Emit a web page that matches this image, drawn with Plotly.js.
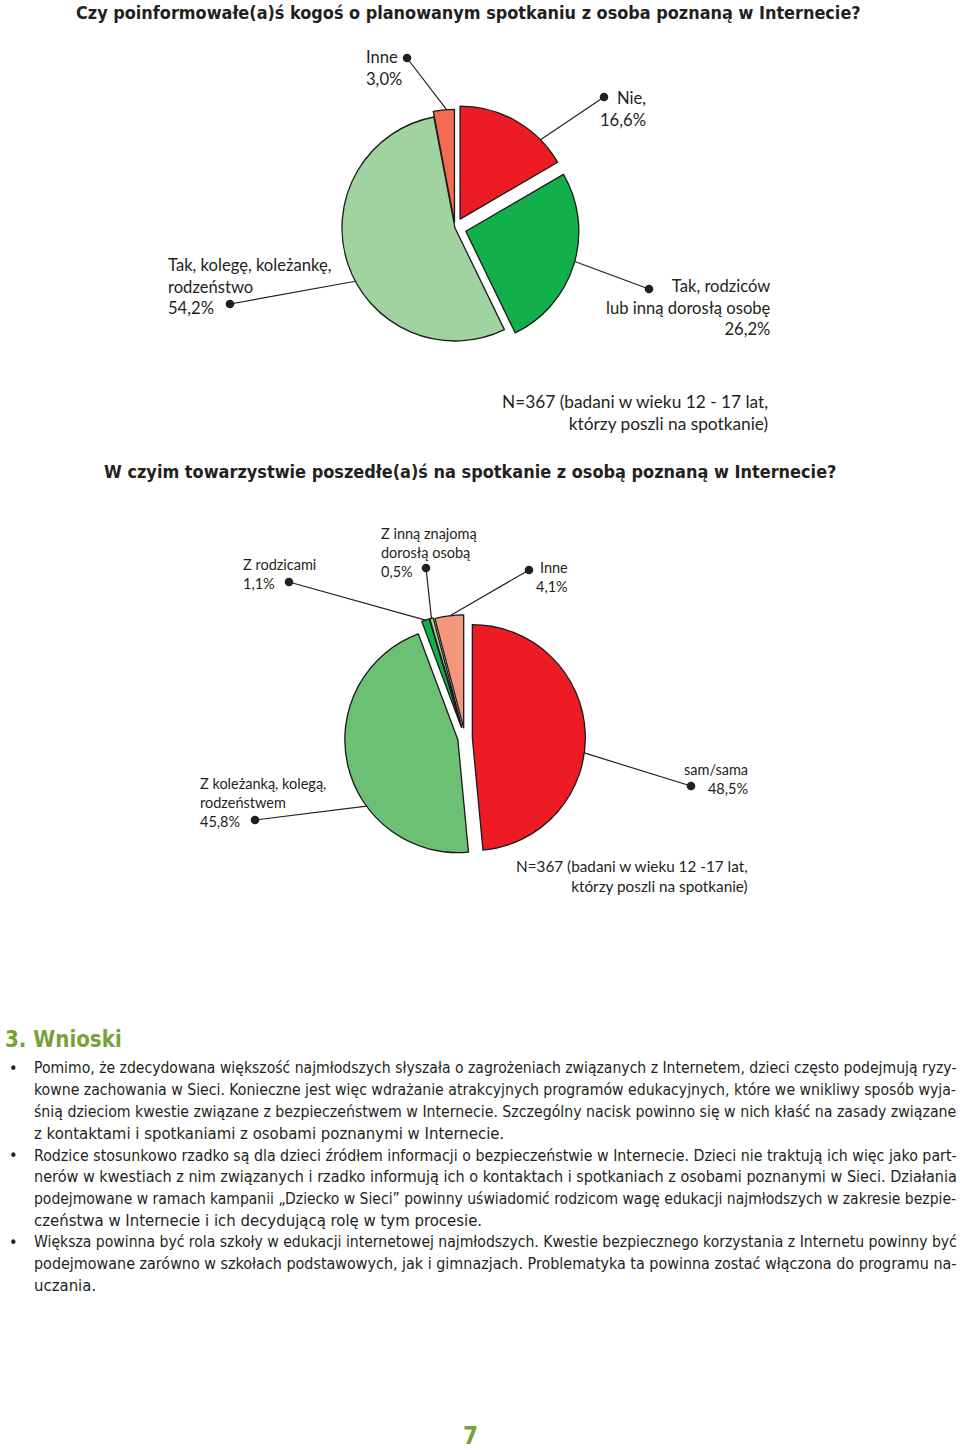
<!DOCTYPE html>
<html>
<head>
<meta charset="utf-8">
<script src="https://cdn.plot.ly/plotly-3.0.1.min.js"></script>
<style>html,body{margin:0;padding:0;background:#fff}</style>
</head>
<body>
<div id="chart" style="width:960px;height:1450px"></div>
<script>
// ---------------- DATA ----------------
const q1Title = 'Czy poinformowałe(a)ś kogoś o planowanym spotkaniu z osoba poznaną w Internecie?';
const q1Labels = ['Nie,', 'Tak, rodziców\nlub inną dorosłą osobę', 'Tak, kolegę, koleżankę,\nrodzeństwo', 'Inne'];
const q1Values = [16.6, 26.2, 54.2, 3.0];
const q1Colors = ['#ED1C24', '#12B04B', '#A0D3A0', '#F26A4F'];
const q1Note = 'N=367 (badani w wieku 12 - 17 lat,\nktórzy poszli na spotkanie)';

const q2Title = 'W czyim towarzystwie poszedłe(a)ś na spotkanie z osobą poznaną w Internecie?';
const q2Labels = ['sam/sama', 'Z koleżanką, kolegą,\nrodzeństwem', 'Z rodzicami', 'Z inną znajomą\ndorosłą osobą', 'Inne'];
const q2Values = [48.5, 45.8, 1.1, 0.5, 4.1];
const q2Colors = ['#ED1C24', '#6CC073', '#12B04B', '#A8D8A8', '#F4977C'];
const q2Note = 'N=367 (badani w wieku 12 -17 lat,\nktórzy poszli na spotkanie)';

const sectionHeading = '3. Wnioski';
const bulletParagraphs = [
  ['Pomimo, że zdecydowana większość najmłodszych słyszała o zagrożeniach związanych z Internetem, dzieci często podejmują ryzy-',
   'kowne zachowania w Sieci. Konieczne jest więc wdrażanie atrakcyjnych programów edukacyjnych, które we wnikliwy sposób wyja-',
   'śnią dzieciom kwestie związane z bezpieczeństwem w Internecie. Szczególny nacisk powinno się w nich kłaść na zasady związane',
   'z kontaktami i spotkaniami z osobami poznanymi w Internecie.'],
  ['Rodzice stosunkowo rzadko są dla dzieci źródłem informacji o bezpieczeństwie w Internecie. Dzieci nie traktują ich więc jako part-',
   'nerów w kwestiach z nim związanych i rzadko informują ich o kontaktach i spotkaniach z osobami poznanymi w Sieci. Działania',
   'podejmowane w ramach kampanii „Dziecko w Sieci” powinny uświadomić rodzicom wagę edukacji najmłodszych w zakresie bezpie-',
   'czeństwa w Internecie i ich decydującą rolę w tym procesie.'],
  ['Większa powinna być rola szkoły w edukacji internetowej najmłodszych. Kwestie bezpiecznego korzystania z Internetu powinny być',
   'podejmowane zarówno w szkołach podstawowych, jak i gimnazjach. Problematyka ta powinna zostać włączona do programu na-',
   'uczania.']
];
const pageNumber = '7';

// ---------------- LAYOUT / STYLE ----------------
const W = 960, H = 1450;
const ink = '#231F20';
const green = '#76A23A';
const labelFont = 'Lato, "Open Sans", sans-serif';
const bodyFont = '"Liberation Sans Narrow", "DejaVu Sans Condensed", "Roboto Condensed", sans-serif';

const geo1 = {cx: 455, cy: 228, r: 113, pull: [0.09, 0.1, 0, 0.05]};
const geo2 = {cx: 465, cy: 738, r: 113, pull: [0.065, 0.065, 0.1, 0.1, 0.09]};

// label placement (pixels): text anchor, dot, fraction of slice span where the leader meets the edge
const lab1 = [
  {tx: 648, ty: 86, xa: 'right', dot: [604, 97], frac: 0.76},
  {tx: 773, ty: 274, xa: 'right', dot: [649, 289], frac: 0.485},
  {tx: 166, ty: 253, xa: 'left', dot: [230, 304], frac: 0.45},
  {tx: 364, ty: 45, xa: 'left', dot: [407, 58], frac: 0.63}
];
const lab2 = [
  {tx: 750, ty: 759, xa: 'right', dot: [691, 786], frac: 0.56},
  {tx: 198, ty: 773, xa: 'left', dot: [255, 820], frac: 0.36},
  {tx: 241, ty: 554, xa: 'left', dot: [289, 582], frac: 0.5},
  {tx: 379, ty: 523, xa: 'left', dot: [426, 568], frac: 0.5},
  {tx: 570, ty: 557, xa: 'right', dot: [529, 570], frac: 0.53}
];

const ctx = document.createElement('canvas').getContext('2d');
function fitSize(text, target, base, weight) {
  ctx.font = (weight || 'normal') + ' ' + base + 'px ' + bodyFont;
  const w = ctx.measureText(text).width;
  const s = base * target / w;
  return Math.max(base * 0.85, Math.min(base * 1.15, s));
}
const px = (x) => x / W;
const py = (y) => 1 - y / H;
const br = (s) => s.replace(/\n/g, '<br>');
const pct = (v) => v.toFixed(1).replace('.', ',') + '%';

function domainOf(g) {
  const half = g.r * (1 + Math.max(...g.pull));
  return {x: [px(g.cx - half), px(g.cx + half)], y: [py(g.cy + half), py(g.cy - half)]};
}
function edgePoint(values, i, g, frac) {
  const total = values.reduce((a, b) => a + b, 0);
  let start = 0;
  for (let k = 0; k < i; k++) start += values[k];
  const a0 = start / total * 360, span = values[i] / total * 360;
  const mid = (a0 + span / 2) * Math.PI / 180;
  const ang = (a0 + frac * span) * Math.PI / 180;
  const ox = g.cx + g.pull[i] * g.r * Math.sin(mid);
  const oy = g.cy - g.pull[i] * g.r * Math.cos(mid);
  return [ox + g.r * Math.sin(ang), oy - g.r * Math.cos(ang)];
}

const traces = [
  {type: 'pie', labels: q1Labels.map(s => s.replace('\n', ' ')), values: q1Values, sort: false,
   direction: 'clockwise', rotation: 0, pull: geo1.pull, textinfo: 'none', hoverinfo: 'skip',
   marker: {colors: q1Colors, line: {color: '#1a1a1a', width: 1.3}}, domain: domainOf(geo1), showlegend: false},
  {type: 'pie', labels: q2Labels.map(s => s.replace('\n', ' ')), values: q2Values, sort: false,
   direction: 'clockwise', rotation: 0, pull: geo2.pull, textinfo: 'none', hoverinfo: 'skip',
   marker: {colors: q2Colors, line: {color: '#1a1a1a', width: 1.3}}, domain: domainOf(geo2), showlegend: false}
];

const annotations = [];
const shapes = [];

function addLabels(labels, values, labs, g, size) {
  labs.forEach((L, i) => {
    annotations.push({xref: 'paper', yref: 'paper', x: px(L.tx), y: py(L.ty), xanchor: L.xa, yanchor: 'top',
      align: L.xa, showarrow: false, text: br(labels[i]) + '<br>' + pct(values[i]),
      font: {family: labelFont, size: size, color: ink}});
    const e = edgePoint(values, i, g, L.frac);
    shapes.push({type: 'line', xref: 'paper', yref: 'paper', x0: px(L.dot[0]), y0: py(L.dot[1]),
      x1: px(e[0]), y1: py(e[1]), line: {color: ink, width: 1.2}});
    const rd = 4.3;
    shapes.push({type: 'circle', xref: 'paper', yref: 'paper', x0: px(L.dot[0] - rd), x1: px(L.dot[0] + rd),
      y0: py(L.dot[1] + rd), y1: py(L.dot[1] - rd), fillcolor: ink, line: {width: 0}});
  });
}
addLabels(q1Labels, q1Values, lab1, geo1, 16.6);
addLabels(q2Labels, q2Values, lab2, geo2, 14.5);

annotations.push({xref: 'paper', yref: 'paper', x: px(770), y: py(389), xanchor: 'right', yanchor: 'top',
  align: 'right', showarrow: false, text: br(q1Note), font: {family: labelFont, size: 17.3, color: ink}});
annotations.push({xref: 'paper', yref: 'paper', x: px(750), y: py(855), xanchor: 'right', yanchor: 'top',
  align: 'right', showarrow: false, text: br(q2Note), font: {family: labelFont, size: 15.3, color: ink}});

// second chart title
annotations.push({xref: 'paper', yref: 'paper', x: px(102), y: py(471), xanchor: 'left', yanchor: 'middle',
  showarrow: false, text: '<b>' + q2Title + '</b>',
  font: {family: bodyFont, size: fitSize(q2Title, 733, 21, 'bold'), color: ink}});

// section heading
annotations.push({xref: 'paper', yref: 'paper', x: px(3), y: py(1039), xanchor: 'left', yanchor: 'middle',
  showarrow: false, text: '<b>' + sectionHeading + '</b>',
  font: {family: bodyFont, size: fitSize(sectionHeading, 111, 26, 'bold'), color: green}});

// body text lines
const lineY0 = 1068, lineStep = 21.75;
let li = 0;
bulletParagraphs.forEach((para) => {
  para.forEach((line, j) => {
    const y = lineY0 + li * lineStep;
    if (j === 0) {
      annotations.push({xref: 'paper', yref: 'paper', x: px(13), y: py(y), xanchor: 'center', yanchor: 'middle',
        showarrow: false, text: '•', font: {family: bodyFont, size: 16, color: ink}});
    }
    const last = j === para.length - 1;
    const size = last ? 16.6 : fitSize(line, 923, 16.6);
    annotations.push({xref: 'paper', yref: 'paper', x: px(32), y: py(y), xanchor: 'left', yanchor: 'middle',
      showarrow: false, text: line, font: {family: bodyFont, size: size, color: ink}});
    li++;
  });
});

// page number
annotations.push({xref: 'paper', yref: 'paper', x: px(470), y: py(1436), xanchor: 'center', yanchor: 'middle',
  showarrow: false, text: '<b>' + pageNumber + '</b>', font: {family: bodyFont, size: 24, color: green}});

const layout = {
  width: W, height: H,
  margin: {l: 0, r: 0, t: 0, b: 0},
  paper_bgcolor: '#ffffff', plot_bgcolor: '#ffffff',
  title: {text: '<b>' + q1Title + '</b>', x: px(76), xanchor: 'left', xref: 'paper', y: py(13), yref: 'paper',
    yanchor: 'middle', font: {family: bodyFont, size: fitSize(q1Title, 785, 21, 'bold'), color: ink}},
  showlegend: false,
  annotations: annotations,
  shapes: shapes
};

Plotly.newPlot('chart', traces, layout, {staticPlot: true, displayModeBar: false});
</script>
</body>
</html>
